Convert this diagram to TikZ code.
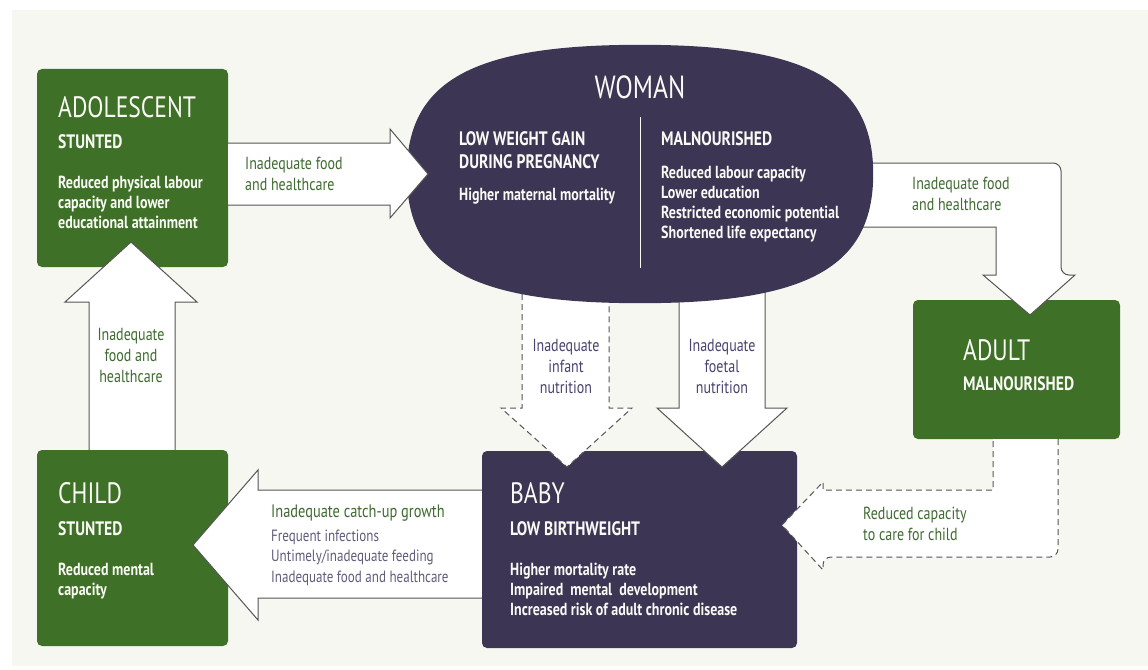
\documentclass[tikz,border=0pt]{standalone}
\usepackage{fontspec}
\setmainfont{PT Sans}[FakeStretch = 0.8]
\definecolor{boxgreen}{HTML}{3E7027}
\definecolor{boxpurple}{HTML}{3C3554}
\definecolor{panelgrey}{HTML}{F7F7F2}
\definecolor{arrowgrey}{HTML}{555555}
\definecolor{labelgreen}{HTML}{3F6A30}
\definecolor{labelpurple}{HTML}{4A4270}
\definecolor{notegrey}{HTML}{625C7C}
\definecolor{boxtext}{HTML}{FAFAF5}
\usetikzlibrary{calc}
\pgfdeclarelayer{panel}
\pgfdeclarelayer{under}
\pgfsetlayers{panel,under,main}
\tikzset{
	stage/.style = {rectangle, rounded corners = 5pt, inner sep = 0pt},
	stagehead/.style = {anchor = base west, inner sep = 0pt, text = boxtext, font = \fontsize{29.5}{30}\selectfont},
	stagesub/.style = {anchor = base west, inner sep = 0pt, text = boxtext, align = left, font = \fontsize{19.5}{23}\selectfont\bfseries},
	stagetxt/.style = {anchor = base west, inner sep = 0pt, text = boxtext, align = left, font = \fontsize{17.5}{20}\selectfont\bfseries},
	cause/.style = {inner sep = 0pt, text = labelgreen, font = \fontsize{17.5}{21}\selectfont},
	blockarrow/.style = {fill = white, draw = arrowgrey, line width = 1pt, line join = miter},
	dashedarrow/.style = {blockarrow, dash pattern = on 6pt off 4pt},
}

\begin{document}
\begin{tikzpicture}[x = 1pt, y = -1pt]
	\useasboundingbox (0, 0) rectangle (1148, 669);
	\begin{pgfonlayer}{panel}
		\fill[panelgrey] (12, 10) rectangle (1148, 666);
	\end{pgfonlayer}
	\node[rectangle, inner sep = 0pt, minimum width = 466pt, minimum height = 258pt] at (640, 174) (woman) {};
	\fill[boxpurple] (woman.west)
		.. controls ($(woman.west)!0.72!(woman.north west)$) and ($(woman.north)!0.72!(woman.north west)$) .. (woman.north)
		.. controls ($(woman.north)!0.72!(woman.north east)$) and ($(woman.east)!0.72!(woman.north east)$) .. (woman.east)
		.. controls ($(woman.east)!0.72!(woman.south east)$) and ($(woman.south)!0.72!(woman.south east)$) .. (woman.south)
		.. controls ($(woman.south)!0.72!(woman.south west)$) and ($(woman.west)!0.72!(woman.south west)$) .. (woman.west) -- cycle;
	\begin{pgfonlayer}{under}
		\node[stage, fill = boxgreen, minimum width = 191pt, minimum height = 198pt] at (132.5, 168) (adol) {};
		\node[stage, fill = boxgreen, minimum width = 191pt, minimum height = 196pt] at (132.5, 548) (child) {};
		\node[stage, fill = boxgreen, minimum width = 207pt, minimum height = 139pt] at (1016.5, 369.5) (adult) {};
		\node[stage, fill = boxpurple, minimum width = 315pt, minimum height = 197pt] at (639.5, 549.5) (baby) {};
		\draw[dashedarrow] (woman.center -| 522, 0) -- (522, 408) -- (501, 408) -- (567, 467) -- (632, 408) -- (609, 408) -- (woman.center -| 609, 0);
		\draw[blockarrow] (woman.center -| 679, 0) -- (679, 408) -- (657, 408) -- (722, 467) -- (787, 408) -- (765, 408) -- (woman.center -| 765, 0);
		\draw[blockarrow] (woman.center |- 0, 163) [rounded corners = 8pt] -- (1061, 163) -- (1061, 275) [sharp corners] -- (1075, 275) -- (1030, 315) -- (983, 275) -- (996, 275) -- (996, 227) [rounded corners = 8pt] -- (woman.center |- 0, 227);
	\end{pgfonlayer}
	\draw[blockarrow] (adol.east |- 0, 143) -- (390, 143) -- (390, 129) -- (428, 174) -- (390, 218) -- (390, 205) -- (adol.east |- 0, 205);
	\draw[blockarrow] (child.north -| 89, 0) -- (89, 302) -- (65, 302) -- (131, 242) -- (197, 302) -- (175, 302) -- (child.north -| 175, 0);
	\draw[blockarrow] (baby.west |- 0, 490) -- (258, 490) -- (258, 470) -- (193, 545) -- (258, 620) -- (258, 598) -- (baby.west |- 0, 598);
	\draw[dashedarrow] (adult.south -| 1058, 0) [rounded corners = 8pt] -- (1058, 557) -- (823, 557) [sharp corners] -- (823, 570) -- (782, 525) -- (823, 482) -- (823, 490) -- (993, 490) [rounded corners = 8pt] -- (adult.south -| 993, 0);
	\node[stagehead] at (58, 117) (adolhead) {ADOLESCENT};
	\node[stagesub] at (58, 148) (adolsub) {STUNTED};
	\node[stagetxt] at (58, 228) (adoltxt) {Reduced physical labour\\capacity and lower\\educational attainment};
	\node[stagehead, anchor = base, font = \fontsize{32}{32}\selectfont] at (640, 99) (womanhead) {WOMAN};
	\node[stagesub] at (459, 168) (womansubl) {LOW WEIGHT GAIN\\DURING PREGNANCY};
	\node[stagetxt] at (459, 200) (womantxtl) {Higher maternal mortality};
	\node[stagesub] at (661, 145) (womansubr) {MALNOURISHED};
	\node[stagetxt] at (661, 238) (womantxtr) {Reduced labour capacity\\Lower education\\Restricted economic potential\\Shortened life expectancy};
	\draw[boxtext, line width = 1pt] (640, 117) -- (640, 268);
	\node[stagehead] at (963, 360) (adulthead) {ADULT};
	\node[stagesub] at (963, 390) (adultsub) {MALNOURISHED};
	\node[stagehead] at (58, 503) (childhead) {CHILD};
	\node[stagesub] at (58, 535) (childsub) {STUNTED};
	\node[stagetxt] at (58, 595) (childtxt) {Reduced mental\\capacity};
	\node[stagehead] at (510, 503) (babyhead) {BABY};
	\node[stagesub] at (510, 535) (babysub) {LOW BIRTHWEIGHT};
	\node[stagetxt] at (510, 615) (babytxt) {Higher mortality rate\\Impaired\ \ mental\ \ development\\Increased risk of adult chronic disease};
	\node[cause, anchor = base west, align = left] at (245, 190) (foodadol) {Inadequate food\\and healthcare};
	\node[cause, anchor = base west, align = left] at (912, 210) (foodadult) {Inadequate food\\and healthcare};
	\node[cause, anchor = base, align = center] at (131, 382) (foodchild) {Inadequate\\food and\\healthcare};
	\node[cause, anchor = base, align = center, text = labelpurple] at (566, 393) (infant) {Inadequate\\infant\\nutrition};
	\node[cause, anchor = base, align = center, text = labelpurple] at (722, 393) (foetal) {Inadequate\\foetal\\nutrition};
	\node[cause, anchor = base west, font = \fontsize{18}{21}\selectfont] at (271, 517) (catchup) {Inadequate catch-up growth};
	\node[cause, anchor = base west, align = left, text = notegrey, font = \fontsize{16.3}{20.5}\selectfont] at (271, 582) (catchupwhy) {Frequent infections\\Untimely/inadequate feeding\\Inadequate food and healthcare};
	\node[cause, anchor = base west, align = left] at (863, 540) (care) {Reduced capacity\\to care for child};
\end{tikzpicture}
\end{document}
